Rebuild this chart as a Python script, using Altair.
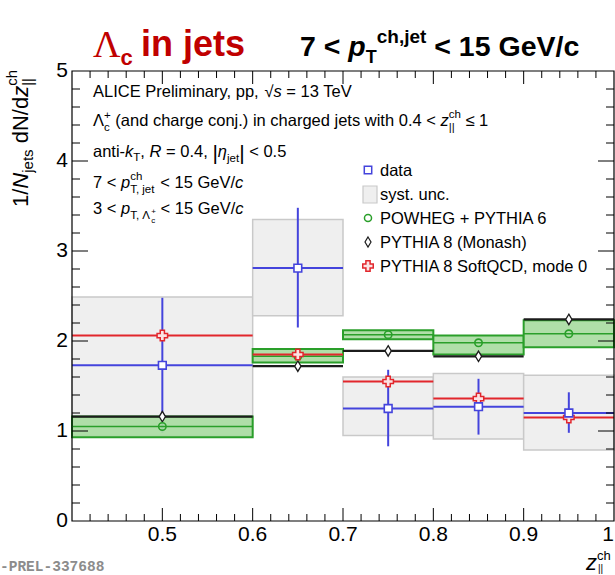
import altair as alt
import pandas as pd

# ---------------- data ----------------
bin_lo = [0.4, 0.6, 0.7, 0.8, 0.9]
bin_hi = [0.6, 0.7, 0.8, 0.9, 1.0]
bin_center = [0.5, 0.65, 0.75, 0.85, 0.95]

data_val = [1.73, 2.81, 1.25, 1.27, 1.20]
data_stat_lo = [0.98, 2.15, 0.83, 0.96, 0.98]
data_stat_hi = [2.48, 3.48, 1.68, 1.58, 1.43]
data_syst_lo = [0.95, 2.28, 0.95, 0.91, 0.79]
data_syst_hi = [2.49, 3.35, 1.60, 1.64, 1.62]

powheg_val = [1.05, 1.83, 2.07, 1.98, 2.08]
powheg_lo = [0.93, 1.76, 2.02, 1.85, 1.93]
powheg_hi = [1.16, 1.91, 2.12, 2.06, 2.23]

monash_val = [1.16, 1.72, 1.89, 1.83, 2.24]
softqcd_val = [2.06, 1.85, 1.55, 1.36, 1.15]

x_tick_values = [0.5, 0.6, 0.7, 0.8, 0.9]
x_tick_text = ["0.5", "0.6", "0.7", "0.8", "0.9"]
x_last_value = [1.0]
x_last_text = ["1"]
y_tick_values = [0, 1, 2, 3, 4, 5]
y_tick_text = ["0", "1", "2", "3", "4", "5"]
x_major = [0.5, 0.6, 0.7, 0.8, 0.9]
x_minor = [round(0.4 + 0.02 * i, 2) for i in range(1, 30) if i % 5 != 0]
y_major = [1, 2, 3, 4]
y_minor = [round(0.2 * i, 1) for i in range(1, 25) if i % 5 != 0]

legend_entries = ["data", "syst. unc.", "POWHEG + PYTHIA 6",
                  "PYTHIA 8 (Monash)", "PYTHIA 8 SoftQCD, mode 0"]

# ---------------- style ----------------
W, H = 542, 450          # plot area
L, T = 72, 71            # plot origin in page pixels
BLUE = "#4444dc"
RED = "#e2262c"
GREEN = "#2a9f2a"
GREEN_FILL = "#a9dca2"
GRAY_FILL = "#efefef"
GRAY_EDGE = "#c9c9c9"
DARK = "#1c1c1c"
TITLE_RED = "#c00000"
SANS = "Liberation Sans"
SERIF = "Liberation Serif"
MONO = "Liberation Mono"
DIAMOND = "M0,-1L0.6,0L0,1L-0.6,0Z"

df = pd.DataFrame(dict(lo=bin_lo, hi=bin_hi, c=bin_center, val=data_val,
                       slo=data_stat_lo, shi=data_stat_hi,
                       ylo=data_syst_lo, yhi=data_syst_hi,
                       pv=powheg_val, plo=powheg_lo, phi=powheg_hi,
                       mv=monash_val, qv=softqcd_val))

xs = alt.Scale(domain=[0.4, 1.0], nice=False, zero=False)
ys = alt.Scale(domain=[0, 5], nice=False, zero=False)


def X(f):
    return alt.X(f, scale=xs, axis=None)


def Y(f):
    return alt.Y(f, scale=ys, axis=None)


base = alt.Chart(df)

syst = base.mark_rect(fill=GRAY_FILL, stroke=GRAY_EDGE, strokeWidth=1.5).encode(
    x=X("lo:Q"), x2="hi:Q", y=Y("ylo:Q"), y2="yhi:Q")
data_h = base.mark_rule(color=BLUE, strokeWidth=2).encode(
    x=X("lo:Q"), x2="hi:Q", y=Y("val:Q"))
data_v = base.mark_rule(color=BLUE, strokeWidth=2).encode(
    x=X("c:Q"), y=Y("slo:Q"), y2="shi:Q")
pow_box = base.mark_rect(fill=GREEN_FILL, fillOpacity=0.92, stroke=GREEN, strokeWidth=2).encode(
    x=X("lo:Q"), x2="hi:Q", y=Y("plo:Q"), y2="phi:Q")
pow_line = base.mark_rule(color=GREEN, strokeWidth=1.6).encode(
    x=X("lo:Q"), x2="hi:Q", y=Y("pv:Q"))
mon_line = base.mark_rule(color=DARK, strokeWidth=2.2).encode(
    x=X("lo:Q"), x2="hi:Q", y=Y("mv:Q"))
qcd_line = base.mark_rule(color=RED, strokeWidth=2).encode(
    x=X("lo:Q"), x2="hi:Q", y=Y("qv:Q"))

mon_pt = base.mark_point(shape=DIAMOND, size=110, filled=True, fill="white",
                         stroke=DARK, strokeWidth=1.3, opacity=1).encode(
    x=X("c:Q"), y=Y("mv:Q"))
pow_pt = base.mark_point(shape="circle", size=55, filled=False, color=GREEN,
                         strokeWidth=1.6, opacity=1).encode(
    x=X("c:Q"), y=Y("pv:Q"))
qcd_pt = base.mark_point(shape="cross", size=110, filled=True, fill="#fbe3e3",
                         stroke=RED, strokeWidth=1.5, opacity=1).encode(
    x=X("c:Q"), y=Y("qv:Q"))
data_pt = base.mark_point(shape="square", size=60, filled=True, fill="white",
                          stroke=BLUE, strokeWidth=1.6, opacity=1).encode(
    x=X("c:Q"), y=Y("val:Q"))

# ---------------- frame, inward ROOT-style ticks, tick labels ----------------
frame = alt.Chart(pd.DataFrame({"k": [0]})).mark_rect(
    fill="transparent", stroke="black", strokeWidth=1.2).encode(
    x=alt.value(0), x2=alt.value(W), y=alt.value(0), y2=alt.value(H))


def xticks(vals, y1, y2):
    return alt.Chart(pd.DataFrame({"v": vals})).mark_rule(color="black", strokeWidth=1).encode(
        x=X("v:Q"), y=alt.value(y1), y2=alt.value(y2))


def yticks(vals, x1, x2):
    return alt.Chart(pd.DataFrame({"v": vals})).mark_rule(color="black", strokeWidth=1).encode(
        y=Y("v:Q"), x=alt.value(x1), x2=alt.value(x2))


ticks = [xticks(x_major, H, H - 13), xticks(x_minor, H, H - 7),
         xticks(x_major, 0, 13), xticks(x_minor, 0, 7),
         yticks(y_major, 0, 16), yticks(y_minor, 0, 8),
         yticks(y_major, W, W - 16), yticks(y_minor, W, W - 8)]

x_labels = alt.Chart(pd.DataFrame({"v": x_tick_values, "s": x_tick_text})).mark_text(
    align="center", baseline="top", font=SANS, fontSize=21, color="black").encode(
    x=X("v:Q"), y=alt.value(H + 3), text="s:N")
x_label_last = alt.Chart(pd.DataFrame({"v": x_last_value, "s": x_last_text})).mark_text(
    align="right", baseline="top", font=SANS, fontSize=21, color="black").encode(
    x=X("v:Q"), y=alt.value(H + 3), text="s:N")
y_labels = alt.Chart(pd.DataFrame({"v": y_tick_values, "s": y_tick_text})).mark_text(
    align="right", baseline="middle", font=SANS, fontSize=21, color="black").encode(
    y=Y("v:Q"), x=alt.value(-4), text="s:N")

# ---------------- rich text helper ----------------
REG = {' ': 278, '(': 333, ')': 333, '+': 584, ',': 278, '-': 333, '.': 278, '/': 278,
       '<': 584, '=': 584, '|': 260, 'A': 667, 'C': 722, 'D': 722, 'E': 667, 'G': 778,
       'H': 722, 'I': 278, 'L': 556, 'M': 833, 'N': 722, 'O': 778, 'P': 667, 'Q': 778,
       'R': 722, 'S': 667, 'T': 611, 'V': 667, 'W': 944, 'Y': 667, 'a': 556, 'c': 500,
       'd': 556, 'e': 556, 'f': 278, 'g': 556, 'h': 556, 'i': 222, 'j': 222, 'k': 500,
       'l': 222, 'm': 833, 'n': 556, 'o': 556, 'p': 556, 'r': 333, 's': 500, 't': 278,
       'u': 556, 'w': 722, 'y': 500, 'z': 500, 'Λ': 667, 'η': 556, '√': 549, '≤': 549}
BOLD = {' ': 278, '<': 584, ',': 278, '/': 278, 'G': 778, 'T': 611, 'V': 667, 'c': 556,
        'e': 556, 'h': 611, 'i': 278, 'j': 278, 'n': 611, 'p': 611, 's': 556, 't': 333}
SERIFW = {'Λ': 722, ' ': 250}


def S(t, fs, dy=0, it=False, bd=False, fam=SANS, adv=True):
    return dict(t=t, fs=fs, dy=dy, it=it, bd=bd, fam=fam, adv=adv)


def width(t, fs, bd, fam):
    tab = SERIFW if fam == SERIF else (BOLD if bd else REG)
    return sum(tab.get(ch, 556) for ch in t) * fs / 1000.0


def chain(x0, y0, segs, color="black", vertical=False):
    rows = []
    d = -1 if vertical else 1
    cur = y0 if vertical else x0
    for s in segs:
        t = s["t"]
        sp = width(" ", s["fs"], s["bd"], s["fam"])
        core = t.strip(" ")
        if not core:
            if s["adv"]:
                cur += d * len(t) * sp
            continue
        lead = len(t) - len(t.lstrip(" "))
        trail = len(t) - len(t.rstrip(" "))
        start = cur + d * lead * sp
        w = width(core, s["fs"], s["bd"], s["fam"])
        if vertical:
            px, py = x0 + s["dy"], start
        else:
            px, py = start, y0 + s["dy"]
        rows.append(dict(t=core, x=px - L, y=py - T, fs=s["fs"], it=s["it"], bd=s["bd"],
                         fam=s["fam"], color=color, angle=270 if vertical else 0))
        if s["adv"]:
            cur = start + d * (w + trail * sp)
    return rows


rows = []
# title
rows += chain(93, 57, [S("Λ", 38, fam=SERIF), S("c", 22, dy=8, bd=True)], color=TITLE_RED)
rows += chain(141, 56, [S("in jets", 36, bd=True)], color=TITLE_RED)
rows += chain(300, 56, [S("7 < ", 28.5, bd=True), S("p", 28.5, it=True, bd=True),
                        S("T", 18, dy=7, bd=True), S("ch,jet", 19, dy=-13, bd=True),
                        S(" < 15 GeV/c", 28.5, bd=True)])
# info block
F, f = 16.5, 11.5
rows += chain(93, 97, [S("ALICE Preliminary, pp, ", F), S("√", F), S("s", F, it=True),
                       S(" = 13 TeV", F)])
rows += chain(93, 126, [S("Λ", F), S("c", f, dy=5, adv=False), S("+", f, dy=-7),
                        S(" (and charge conj.) in charged jets with 0.4 < ", F),
                        S("z", F, it=True), S("||", f, dy=5, adv=False), S("ch", f, dy=-8),
                        S(" ≤ 1", F)])
rows += chain(93, 157, [S("anti-", F), S("k", F, it=True), S("T", f, dy=4), S(", ", F),
                        S("R", F, it=True), S(" = 0.4, ", F), S("|", 21, dy=3),
                        S("η", F, it=True), S("jet", f, dy=5), S("|", 21, dy=3),
                        S(" < 0.5", F)])
rows += chain(93, 188, [S("7 < ", F), S("p", F, it=True), S("ch", f, dy=-8, adv=False),
                        S("T, jet", f, dy=5), S(" < 15 GeV/", F), S("c", F, it=True)])
rows += chain(93, 214, [S("3 < ", F), S("p", F, it=True), S("T, Λ", f, dy=5),
                        S("c", 8, dy=9, adv=False), S("+", 8, dy=0),
                        S(" < 15 GeV/", F), S("c", F, it=True)])
# legend text
for i, lab in enumerate(legend_entries):
    rows += chain(380, 176 + 24 * i, [S(lab, F)])
# axis titles
rows += chain(28, 207, [S("1/", 22), S("N", 22, it=True), S("jets", 15, dy=5),
                        S(" dN/d", 22), S("z", 22, it=True), S("||", 15, dy=5, adv=False),
                        S("ch", 15, dy=-11)], vertical=True)
rows += chain(586, 570, [S("z", 22, it=True)])
rows += chain(597, 560, [S("ch", 13)])
rows += chain(598, 572, [S("||", 10)])
# watermark
rows += chain(0, 571, [S("-PREL-337688", 14.5, bd=True, fam=MONO)], color="#8c8c8c")

tdf = pd.DataFrame(rows)
text_layers = []
for (fam, it, bd, color, angle), g in tdf.groupby(["fam", "it", "bd", "color", "angle"]):
    text_layers.append(
        alt.Chart(g.reset_index(drop=True)).mark_text(
            align="left", baseline="alphabetic", font=fam,
            fontStyle="italic" if it else "normal",
            fontWeight="bold" if bd else "normal", color=color, angle=int(angle)
        ).encode(x=alt.X("x:Q", scale=None, axis=None),
                 y=alt.Y("y:Q", scale=None, axis=None),
                 text="t:N",
                 size=alt.Size("fs:Q", scale=None, legend=None)))

# ---------------- legend symbols ----------------
LX = 368 - L
ly = [170 - T, 194 - T, 218 - T, 242 - T, 266 - T]


def sym(py, **kw):
    return alt.Chart(pd.DataFrame({"px": [LX], "py": [py]})).mark_point(opacity=1, **kw).encode(
        x=alt.X("px:Q", scale=None, axis=None), y=alt.Y("py:Q", scale=None, axis=None))


leg = [
    sym(ly[0], shape="square", size=55, filled=True, fill="white", stroke=BLUE, strokeWidth=1.5),
    alt.Chart(pd.DataFrame({"a": [363 - L], "b": [377 - L], "c": [186 - T], "d": [203 - T]}))
    .mark_rect(fill=GRAY_FILL, stroke=GRAY_EDGE, strokeWidth=1.2).encode(
        x=alt.X("a:Q", scale=None, axis=None), x2="b:Q",
        y=alt.Y("c:Q", scale=None, axis=None), y2="d:Q"),
    sym(ly[2], shape="circle", size=50, filled=False, color=GREEN, strokeWidth=1.5),
    sym(ly[3], shape=DIAMOND, size=100, filled=True, fill="white", stroke=DARK, strokeWidth=1.2),
    sym(ly[4], shape="cross", size=110, filled=True, fill="#fbe3e3", stroke=RED, strokeWidth=1.5),
]

chart = alt.layer(
    syst, data_h, data_v, pow_box, pow_line, mon_line, qcd_line,
    mon_pt, pow_pt, qcd_pt, data_pt, frame, *ticks, x_labels, x_label_last, y_labels,
    *leg, *text_layers
).properties(
    width=W, height=H,
    autosize=alt.AutoSizeParams(type="none"),
    padding={"left": L, "top": T, "right": 615 - L - W, "bottom": 575 - T - H},
).configure(background="white").configure_view(strokeWidth=0)

chart.save("out.html", embed_options={"renderer": "svg", "actions": False})
